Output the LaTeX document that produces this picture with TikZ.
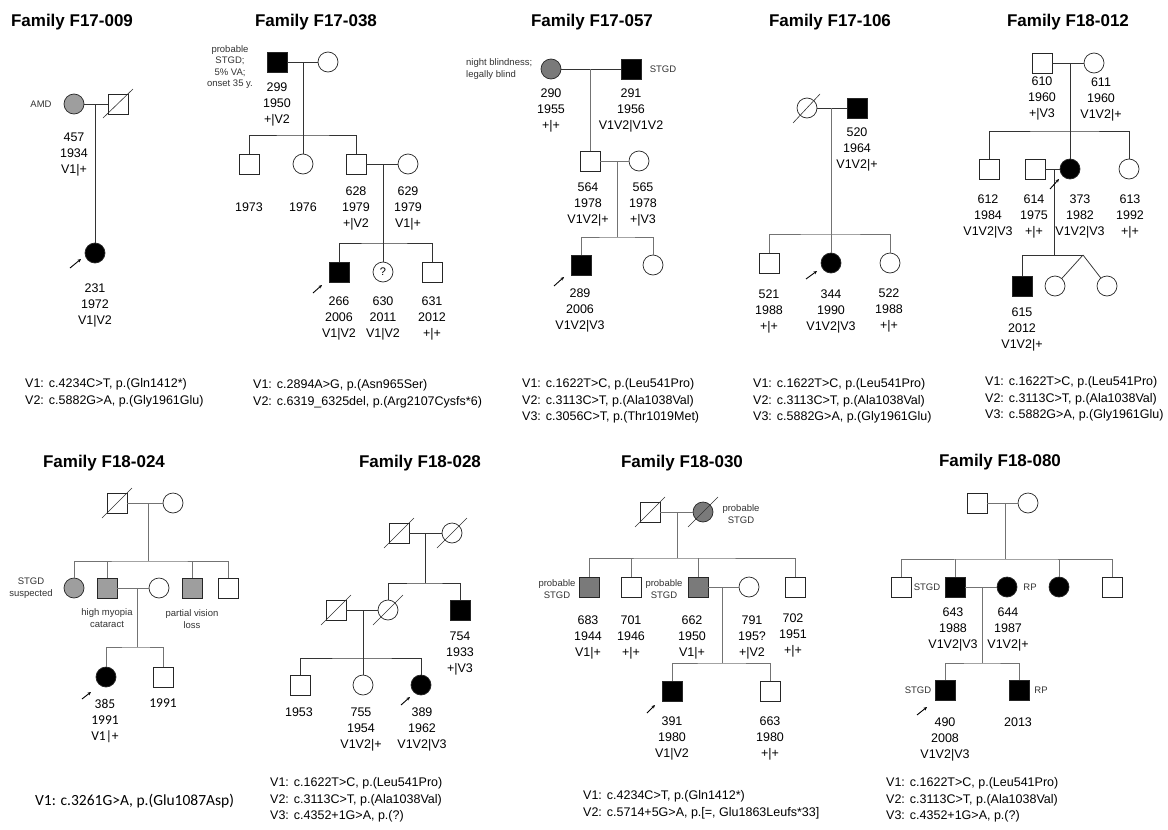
\documentclass[tikz,border=0pt]{standalone}
\usepackage{fontspec}
\setmainfont{Liberation Sans}
\newfontfamily\calib{Carlito}
\usepackage{tikz}
\usetikzlibrary{arrows.meta}
\newcommand{\vgap}{\hspace{5pt}}

\begin{document}
\begin{tikzpicture}[x=1pt, y=-1pt,
    every node/.style={font=\fontsize{12.5}{16}\selectfont},
    sq/.style={draw=black!85, line width=0.7pt, minimum size=20pt, inner sep=0pt, fill=white},
    ci/.style={sq, circle},
    aff/.style={fill=black},
    mid/.style={fill=black!38},
    dk/.style={fill=black!52},
    rel/.style={line width=0.75pt, draw=black!80},
    grel/.style={line width=0.75pt, draw=black!55},
    slash/.style={line width=0.6pt, draw=black!80},
    pb/.style={-{Stealth[length=3.5pt,width=3.2pt]}, line width=0.9pt},
    lbl/.style={align=center, anchor=north, inner sep=0pt, font=\fontsize{12.5}{16}\selectfont},
    lblc/.style={lbl, font=\calib\fontsize{13.5}{16}\selectfont},
    note/.style={align=center, inner sep=0pt, text=black!80, font=\fontsize{9.5}{11.5}\selectfont},
    title/.style={font=\bfseries\fontsize{17}{20}\selectfont},
    var/.style={align=left, anchor=west, inner sep=0pt, font=\fontsize{12.5}{16.5}\selectfont},
    varc/.style={var, font=\calib\fontsize{15.5}{18}\selectfont}
]
\useasboundingbox (0,0) rectangle (1168,830);
\fill[white] (0,0) rectangle (1168,830);

% ---------------- Family F17-009
\node[title] (t1) at (72,22) {Family F17-009};
\node[ci, mid] (p457) at (74,104) {};
\node[sq] (p457h) at (118,104) {};
\draw[slash] ([shift={(-15,14)}]p457h.center) -- ([shift={(15,-15)}]p457h.center);
\node[note] (n457) at (41,104) {AMD};
\draw[rel] (p457) -- (p457h);
\coordinate (m1) at (95,104);
\node[ci, aff] (p231) at (95,253) {};
\draw[rel] (m1) -- (p231);
\draw[pb] ([shift={(-25,15)}]p231.center) -- ([shift={(-14,6)}]p231.center);
\node[lbl] (l457) at (74,133) {457\\1934\\V1|+};
\node[lbl] (l231) at (95,284) {231\\1972\\V1|V2};
\node[var] (v1) at (25,393) {V1:\vgap c.4234C>T, p.(Gln1412*)\\V2:\vgap c.5882G>A, p.(Gly1961Glu)};

% ---------------- Family F17-038
\node[title] (t2) at (316,22) {Family F17-038};
\node[sq, aff] (p299) at (277,62) {};
\node[ci] (p299w) at (328,62) {};
\draw[rel] (p299) -- (p299w);
\node[note] (n299) at (230,67) {probable\\STGD;\\5\% VA;\\onset 35 y.};
\coordinate (m2) at (303,62);
\coordinate (s2) at (303,135);
\node[sq] (p1973) at (249,164) {};
\node[ci] (p1976) at (303,164) {};
\node[sq] (p628) at (356,164) {};
\node[ci] (p629) at (408,164) {};
\draw[rel] (m2) -- (s2);
\draw[rel] (p1973.north) |- (s2) -| (p628.north);
\draw[rel] (p1976.north) -- (s2);
\draw[rel] (p628) -- (p629);
\coordinate (m3) at (383,164);
\coordinate (s3) at (383,243);
\node[sq, aff] (p266) at (339,272) {};
\node[ci, font=\fontsize{11}{12}\selectfont] (p630) at (383,272) {?};
\node[sq] (p631) at (432,272) {};
\draw[rel] (m3) -- (p630);
\draw[rel] (p266.north) |- (s3) -| (p631.north);
\draw[pb] ([shift={(-26,21)}]p266.center) -- ([shift={(-17,13)}]p266.center);
\node[lbl] (l299) at (277,83) {299\\1950\\+|V2};
\node[lbl] (l1973) at (249,203) {1973};
\node[lbl] (l1976) at (303,203) {1976};
\node[lbl] (l628) at (356,187) {628\\1979\\+|V2};
\node[lbl] (l629) at (408,187) {629\\1979\\V1|+};
\node[lbl] (l266) at (339,297) {266\\2006\\V1|V2};
\node[lbl] (l630) at (383,297) {630\\2011\\V1|V2};
\node[lbl] (l631) at (432,297) {631\\2012\\+|+};
\node[var] (v2) at (253,394) {V1:\vgap c.2894A>G, p.(Asn965Ser)\\V2:\vgap c.6319\_6325del, p.(Arg2107Cysfs*6)};

% ---------------- Family F17-057
\node[title] (t3) at (592,22) {Family F17-057};
\node[ci, dk] (p290) at (551,69) {};
\node[sq, aff] (p291) at (631,69) {};
\node[note, align=left, anchor=west] (n290) at (466,69) {night blindness;\\legally blind};
\node[note] (n291) at (663,69) {STGD};
\draw[rel] (p290) -- (p291);
\coordinate (m4) at (590,69);
\node[sq] (p564) at (590,161) {};
\node[ci] (p565) at (639,161) {};
\draw[grel] (m4) -- (p564);
\draw[grel] (p564) -- (p565);
\coordinate (m5) at (617,161);
\coordinate (s5) at (617,237);
\node[sq, aff] (p289) at (581,265) {};
\node[ci] (p289s) at (653,265) {};
\draw[grel] (m5) -- (s5);
\draw[grel] (p289.north) |- (s5) -| (p289s.north);
\draw[pb] ([shift={(-27,21)}]p289.center) -- ([shift={(-17,12)}]p289.center);
\node[lbl] (l290) at (551,89) {290\\1955\\+|+};
\node[lbl] (l291) at (631,89) {291\\1956\\V1V2|V1V2};
\node[lbl] (l564) at (588,183) {564\\1978\\V1V2|+};
\node[lbl] (l565) at (643,183) {565\\1978\\+|V3};
\node[lbl] (l289) at (580,289) {289\\2006\\V1V2|V3};
\node[var] (v3) at (522,401) {V1:\vgap c.1622T>C, p.(Leu541Pro)\\V2:\vgap c.3113C>T, p.(Ala1038Val)\\V3:\vgap c.3056C>T, p.(Thr1019Met)};

% ---------------- Family F17-106
\node[title] (t4) at (830,22) {Family F17-106};
\node[ci] (p106w) at (807,108) {};
\draw[slash] ([shift={(-14,15)}]p106w.center) -- ([shift={(13,-14)}]p106w.center);
\node[sq, aff] (p520) at (857,108) {};
\draw[rel] (p106w) -- (p520);
\coordinate (m6) at (831,108);
\coordinate (s6) at (831,234);
\node[sq] (p521) at (769,263) {};
\node[ci, aff] (p344) at (831,263) {};
\node[ci] (p522) at (890,263) {};
\draw[grel] (m6) -- (p344);
\draw[grel] (p521.north) |- (s6) -| (p522.north);
\draw[pb] ([shift={(-25,16)}]p344.center) -- ([shift={(-14,8)}]p344.center);
\node[lbl] (l520) at (857,128) {520\\1964\\V1V2|+};
\node[lbl] (l521) at (769,290) {521\\1988\\+|+};
\node[lbl] (l344) at (831,290) {344\\1990\\V1V2|V3};
\node[lbl] (l522) at (889,289) {522\\1988\\+|+};
\node[var] (v4) at (753,401) {V1:\vgap c.1622T>C, p.(Leu541Pro)\\V2:\vgap c.3113C>T, p.(Ala1038Val)\\V3:\vgap c.5882G>A, p.(Gly1961Glu)};

% ---------------- Family F18-012
\node[title] (t5) at (1068,22) {Family F18-012};
\node[sq] (p610) at (1042,63) {};
\node[ci] (p611) at (1094,63) {};
\draw[rel] (p610) -- (p611);
\coordinate (m7) at (1070,63);
\coordinate (s7) at (1070,131);
\node[sq] (p612) at (989,169) {};
\node[sq] (p614) at (1035,169) {};
\node[ci, aff] (p373) at (1070,169) {};
\node[ci] (p613) at (1129,169) {};
\draw[rel] (m7) -- (p373);
\draw[rel] (p612.north) |- (s7) -| (p613.north);
\draw[rel] (p614) -- (p373);
\coordinate (m8) at (1054,169);
\coordinate (s8) at (1054,255);
\coordinate (tw) at (1083,255);
\node[sq, aff] (p615) at (1022,286) {};
\node[ci] (p615a) at (1055,286) {};
\node[ci] (p615b) at (1107,286) {};
\draw[rel] (m8) -- (s8);
\draw[rel] (p615.north) |- (tw);
\draw[rel] (tw) -- (p615a);
\draw[rel] (tw) -- (p615b);
\draw[pb] ([shift={(-20,20)}]p373.center) -- ([shift={(-11,10)}]p373.center);
\node[lbl] (l610) at (1042,77) {610\\1960\\+|V3};
\node[lbl] (l611) at (1101,78) {611\\1960\\V1V2|+};
\node[lbl] (l612) at (988,195) {612\\1984\\V1V2|V3};
\node[lbl] (l614) at (1034,195) {614\\1975\\+|+};
\node[lbl] (l373) at (1080,195) {373\\1982\\V1V2|V3};
\node[lbl] (l613) at (1130,195) {613\\1992\\+|+};
\node[lbl] (l615) at (1022,308) {615\\2012\\V1V2|+};
\node[var] (v5) at (985,399) {V1:\vgap c.1622T>C, p.(Leu541Pro)\\V2:\vgap c.3113C>T, p.(Ala1038Val)\\V3:\vgap c.5882G>A, p.(Gly1961Glu)};

% ---------------- Family F18-024
\node[title] (t6) at (104,463) {Family F18-024};
\node[sq] (p24f) at (117,503) {};
\draw[slash] ([shift={(-15,15)}]p24f.center) -- ([shift={(15,-15)}]p24f.center);
\node[ci] (p24m) at (173,503) {};
\draw[grel] (p24f) -- (p24m);
\coordinate (m9) at (148,503);
\coordinate (s9) at (148,561);
\node[ci, mid] (p24a) at (74,588) {};
\node[sq, mid] (p24b) at (107,588) {};
\node[ci] (p24bw) at (159,588) {};
\node[sq, mid] (p24c) at (192,588) {};
\node[sq] (p24d) at (228,588) {};
\draw[grel] (m9) -- (s9);
\draw[grel] (p24a.north) |- (s9) -| (p24d.north);
\draw[grel] (p24b.north) -- (p24b.north |- s9);
\draw[grel] (p24c.north) -- (p24c.north |- s9);
\draw[grel] (p24b) -- (p24bw);
\coordinate (m10) at (137,588);
\coordinate (s10) at (137,647);
\node[ci, aff] (p385) at (106,677) {};
\node[sq] (p24e) at (163,677) {};
\draw[grel] (m10) -- (s10);
\draw[grel] (p385.north) |- (s10) -| (p24e.north);
\draw[pb] ([shift={(-24,22)}]p385.center) -- ([shift={(-15,15)}]p385.center);
\node[note] (n24a) at (31,588) {STGD\\suspected};
\node[note] (n24b) at (107,618) {high myopia\\cataract};
\node[note] (n24c) at (192,619) {partial vision\\loss};
\node[lblc] (l385) at (105,699) {385\\1991\\V1|+};
\node[lblc] (l24e) at (163,699) {1991};
\node[varc] (v6) at (35,801) {V1: c.3261G>A, p.(Glu1087Asp)};

% ---------------- Family F18-028
\node[title] (t7) at (420,463) {Family F18-028};
\node[sq] (p28a) at (399,533) {};
\node[ci] (p28b) at (452,533) {};
\draw[slash] ([shift={(-15,15)}]p28a.center) -- ([shift={(15,-15)}]p28a.center);
\draw[slash] ([shift={(-15,15)}]p28b.center) -- ([shift={(15,-15)}]p28b.center);
\draw[rel] (p28a) -- (p28b);
\coordinate (m11) at (425,533);
\coordinate (s11) at (425,583);
\node[sq] (p28c) at (336,610) {};
\node[ci] (p28d) at (388,610) {};
\node[sq, aff] (p754) at (460,610) {};
\draw[slash] ([shift={(-15,15)}]p28c.center) -- ([shift={(15,-15)}]p28c.center);
\draw[slash] ([shift={(-15,15)}]p28d.center) -- ([shift={(15,-15)}]p28d.center);
\draw[rel] (m11) -- (s11);
\draw[rel] (p28d.north) |- (s11) -| (p754.north);
\draw[rel] (p28c) -- (p28d);
\coordinate (m12) at (363,610);
\coordinate (s12) at (363,658);
\node[sq] (p1953) at (300,685) {};
\node[ci] (p755) at (363,685) {};
\node[ci, aff] (p389) at (421,685) {};
\draw[rel] (m12) -- (p755);
\draw[rel] (p1953.north) |- (s12) -| (p389.north);
\draw[pb] ([shift={(-20,20)}]p389.center) -- ([shift={(-11,12)}]p389.center);
\node[lbl] (l754) at (460,632) {754\\1933\\+|V3};
\node[lbl] (l1953) at (299,708) {1953};
\node[lbl] (l755) at (361,708) {755\\1954\\V1V2|+};
\node[lbl] (l389) at (422,708) {389\\1962\\V1V2|V3};
\node[var] (v7) at (270,800) {V1:\vgap c.1622T>C, p.(Leu541Pro)\\V2:\vgap c.3113C>T, p.(Ala1038Val)\\V3:\vgap c.4352+1G>A, p.(?)};

% ---------------- Family F18-030
\node[title] (t8) at (682,463) {Family F18-030};
\node[sq] (p30a) at (650,512) {};
\node[ci, dk] (p30b) at (703,512) {};
\draw[slash] ([shift={(-15,15)}]p30a.center) -- ([shift={(15,-15)}]p30a.center);
\draw[slash] ([shift={(-15,15)}]p30b.center) -- ([shift={(15,-15)}]p30b.center);
\node[note] (n30b) at (741,514) {probable\\STGD};
\draw[grel] (p30a) -- (p30b);
\coordinate (m13) at (677,512);
\coordinate (s13) at (677,558);
\node[sq, dk] (p683) at (589,587) {};
\node[sq] (p701) at (631,587) {};
\node[sq, dk] (p662) at (698,587) {};
\node[ci] (p791) at (749,587) {};
\node[sq] (p702) at (795,587) {};
\draw[grel] (m13) -- (s13);
\draw[grel] (p683.north) |- (s13) -| (p702.north);
\draw[grel] (p701.north) -- (p701.north |- s13);
\draw[grel] (p662.north) -- (p662.north |- s13);
\node[note] (n683) at (557,589) {probable\\STGD};
\node[note] (n662) at (664,589) {probable\\STGD};
\draw[grel] (p662) -- (p791);
\coordinate (m14) at (722,587);
\coordinate (s14) at (722,663);
\node[sq, aff] (p391) at (672,691) {};
\node[sq] (p663) at (770,691) {};
\draw[grel] (m14) -- (s14);
\draw[grel] (p391.north) |- (s14) -| (p663.north);
\draw[pb] ([shift={(-25,22)}]p391.center) -- ([shift={(-17,14)}]p391.center);
\node[lbl] (l683) at (588,616) {683\\1944\\V1|+};
\node[lbl] (l701) at (631,616) {701\\1946\\+|+};
\node[lbl] (l662) at (692,616) {662\\1950\\V1|+};
\node[lbl] (l791) at (752,616) {791\\195?\\+|V2};
\node[lbl] (l702) at (793,614) {702\\1951\\+|+};
\node[lbl] (l391) at (672,717) {391\\1980\\V1|V2};
\node[lbl] (l663) at (770,717) {663\\1980\\+|+};
\node[var] (v8) at (583,805) {V1:\vgap c.4234C>T, p.(Gln1412*)\\V2:\vgap c.5714+5G>A, p.[=, Glu1863Leufs*33]};

% ---------------- Family F18-080
\node[title] (t9) at (1000,462) {Family F18-080};
\node[sq] (p80a) at (977,503) {};
\node[ci] (p80b) at (1028,503) {};
\draw[grel] (p80a) -- (p80b);
\coordinate (m15) at (1005,503);
\coordinate (s15) at (1005,559);
\node[sq] (p80c) at (901,587) {};
\node[sq, aff] (p643) at (955,587) {};
\node[ci, aff] (p644) at (1007,587) {};
\node[ci, aff] (p80d) at (1059,587) {};
\node[sq] (p80e) at (1112,587) {};
\draw[grel] (m15) -- (s15);
\draw[grel] (p80c.north) |- (s15) -| (p80e.north);
\draw[grel] (p643.north) -- (p643.north |- s15);
\draw[grel] (p80d.north) -- (p80d.north |- s15);
\node[note] (n643) at (927,587) {STGD};
\node[note] (n644) at (1030,587) {RP};
\draw[grel] (p643) -- (p644);
\coordinate (m16) at (982,587);
\coordinate (s16) at (982,663);
\node[sq, aff] (p490) at (945,690) {};
\node[sq, aff] (p80f) at (1019,690) {};
\draw[grel] (m16) -- (s16);
\draw[grel] (p490.north) |- (s16) -| (p80f.north);
\node[note] (n490) at (918,690) {STGD};
\node[note] (n80f) at (1041,690) {RP};
\draw[pb] ([shift={(-28,25)}]p490.center) -- ([shift={(-18,17)}]p490.center);
\node[lbl] (l643) at (953,608) {643\\1988\\V1V2|V3};
\node[lbl] (l644) at (1008,608) {644\\1987\\V1V2|+};
\node[lbl] (l490) at (945,718) {490\\2008\\V1V2|V3};
\node[lbl] (l80f) at (1018,718) {2013};
\node[var] (v9) at (886,800) {V1:\vgap c.1622T>C, p.(Leu541Pro)\\V2:\vgap c.3113C>T, p.(Ala1038Val)\\V3:\vgap c.4352+1G>A, p.(?)};

\end{tikzpicture}
\end{document}
